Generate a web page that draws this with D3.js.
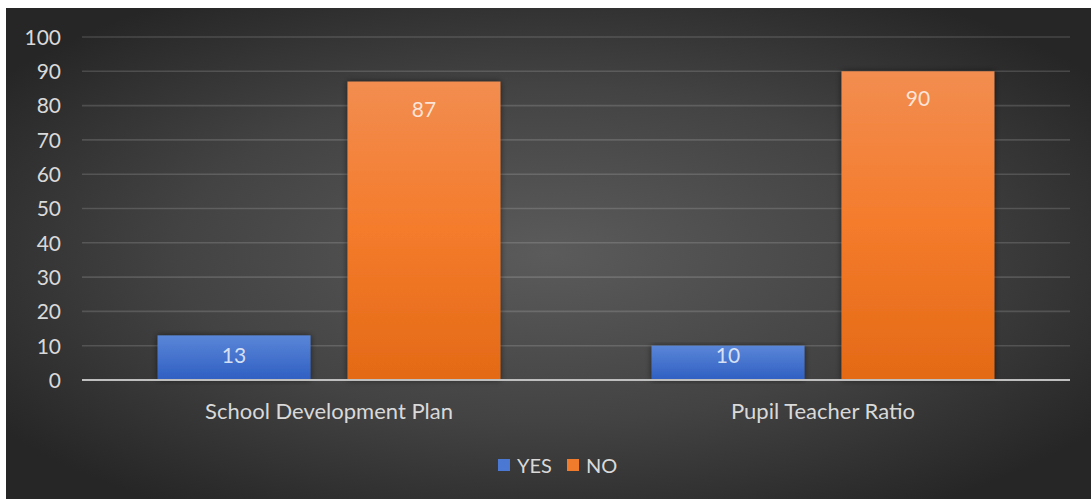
<!DOCTYPE html>
<html>
<head>
<meta charset="utf-8">
<script src="https://cdn.jsdelivr.net/npm/d3@7"></script>
<style>
  html, body { margin: 0; padding: 0; background: #ffffff; }
  svg { display: block; }
  text { font-family: Lato, "Open Sans", "Noto Sans", sans-serif; }
</style>
</head>
<body>
<svg id="chart" width="1091" height="499"></svg>
<script>
// Survey results (percent)
const categories = ["School Development Plan", "Pupil Teacher Ratio"];
const seriesNames = ["YES", "NO"];
const yesValues = [13, 10];
const noValues = [87, 90];
const yTicks = [0, 10, 20, 30, 40, 50, 60, 70, 80, 90, 100];

const rows = categories.map((c, i) => ({ category: c, YES: yesValues[i], NO: noValues[i] }));

const svg = d3.select("#chart");
const W = 1091, H = 499;
const frame = { x: 6, y: 8, w: W - 6, h: H - 8 };
const plot = { left: 82, right: 1070, top: 37, bottom: 380 };

const defs = svg.append("defs");

// dark radial backdrop
const bg = defs.append("radialGradient").attr("id", "bgGrad")
  .attr("cx", "0.5").attr("cy", "0.5").attr("r", "0.62");
bg.append("stop").attr("offset", "0").attr("stop-color", "#5b5b5b");
bg.append("stop").attr("offset", "0.55").attr("stop-color", "#434343");
bg.append("stop").attr("offset", "1").attr("stop-color", "#262626");

// bar fills
const fills = {
  YES: [["0", "#5a86d8"], ["1", "#2f5fc2"]],
  NO: [["0", "#f28d50"], ["0.5", "#f47b2b"], ["1", "#e46a16"]]
};
Object.entries(fills).forEach(([k, stops]) => {
  const g = defs.append("linearGradient").attr("id", "grad" + k)
    .attr("x1", 0).attr("y1", 0).attr("x2", 0).attr("y2", 1);
  stops.forEach(([o, c]) => g.append("stop").attr("offset", o).attr("stop-color", c));
});

const shadow = defs.append("filter").attr("id", "barShadow")
  .attr("x", "-10%").attr("y", "-10%").attr("width", "120%").attr("height", "120%");
shadow.append("feDropShadow").attr("dx", 0).attr("dy", 0).attr("stdDeviation", 3)
  .attr("flood-color", "#000").attr("flood-opacity", 0.55);

svg.append("rect")
  .attr("x", frame.x).attr("y", frame.y).attr("width", frame.w).attr("height", frame.h)
  .attr("fill", "url(#bgGrad)");

const x0 = d3.scaleBand().domain(categories)
  .range([plot.left, plot.right]).paddingInner(0.306).paddingOuter(0.153);
const x1 = d3.scaleBand().domain(seriesNames)
  .range([0, x0.bandwidth()]).paddingInner(0.195).paddingOuter(0);
const y = d3.scaleLinear().domain([0, 100]).range([plot.bottom, plot.top]);

// gridlines
svg.append("g").selectAll("line").data(yTicks.filter(t => t > 0)).join("line")
  .attr("x1", plot.left).attr("x2", plot.right)
  .attr("y1", d => y(d)).attr("y2", d => y(d))
  .attr("stroke", "#ffffff").attr("stroke-opacity", 0.15).attr("stroke-width", 1.6);

// y axis labels
const yAxis = d3.axisLeft(y).tickValues(yTicks).tickSize(0).tickPadding(0);
const yg = svg.append("g").attr("transform", `translate(61,0)`).call(yAxis);
yg.select(".domain").remove();
yg.selectAll("text").attr("fill", "#d9d9d9").attr("font-size", 21).attr("dy", "0.35em");

// bars
const groups = svg.append("g").selectAll("g").data(rows).join("g")
  .attr("transform", d => `translate(${x0(d.category)},0)`);

groups.selectAll("rect").data(d => seriesNames.map(s => ({ s, v: d[s] }))).join("rect")
  .attr("x", d => x1(d.s)).attr("width", x1.bandwidth())
  .attr("y", d => y(d.v)).attr("height", d => y(0) - y(d.v))
  .attr("fill", d => `url(#grad${d.s})`)
  .attr("filter", "url(#barShadow)");

// value labels inside the bar ends
groups.selectAll("text.val").data(d => seriesNames.map(s => ({ s, v: d[s] }))).join("text")
  .attr("class", "val")
  .attr("x", d => x1(d.s) + x1.bandwidth() / 2)
  .attr("y", d => Math.min(y(d.v) + 35, y(0) - 17))
  .attr("text-anchor", "middle")
  .attr("font-size", 21)
  .attr("fill", "#ffffff").attr("fill-opacity", 0.78)
  .text(d => d.v);

// baseline
svg.append("line")
  .attr("x1", plot.left).attr("x2", plot.right)
  .attr("y1", y(0)).attr("y2", y(0))
  .attr("stroke", "#bfbfbf").attr("stroke-width", 2);

// category axis
const xAxis = d3.axisBottom(x0).tickSize(0).tickPadding(0);
const xg = svg.append("g").attr("transform", `translate(0,${y(0)})`).call(xAxis);
xg.select(".domain").remove();
xg.selectAll("text").attr("fill", "#d9d9d9").attr("font-size", 22)
  .attr("dy", 0).attr("y", 39);

// legend
const legendColors = { YES: "#4a78d2", NO: "#f07b2c" };
const legendItems = [{ s: "YES", x: 498 }, { s: "NO", x: 567 }];
const lg = svg.append("g");
legendItems.forEach(it => {
  lg.append("rect").attr("x", it.x).attr("y", 459).attr("width", 12).attr("height", 12)
    .attr("fill", legendColors[it.s]);
  lg.append("text").attr("x", it.x + 19).attr("y", 473)
    .attr("font-size", 20).attr("fill", "#d9d9d9").text(it.s);
});
</script>
</body>
</html>
